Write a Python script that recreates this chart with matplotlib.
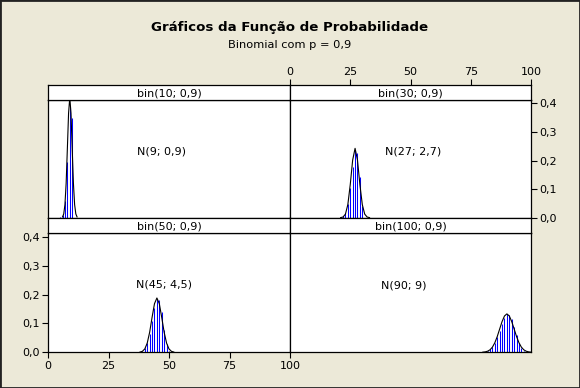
import matplotlib.pyplot as plt
from matplotlib.patches import Rectangle

plt.rcParams['font.family'] = 'DejaVu Sans'

W, H = 580, 388
BG = '#ECE9D8'

# binomial probabilities, p = 0.9
panel_titles = ['bin(10; 0,9)', 'bin(30; 0,9)', 'bin(50; 0,9)', 'bin(100; 0,9)']
normal_labels = ['N(9; 0,9)', 'N(27; 2,7)', 'N(45; 4,5)', 'N(90; 9)']
label_pos = [(47, 0.23), (51, 0.23), (48, 0.235), (47, 0.23)]

k10 = [5, 6, 7, 8, 9, 10]
p10 = [0.0015, 0.0112, 0.0574, 0.1937, 0.3874, 0.3487]
k30 = [20, 21, 22, 23, 24, 25, 26, 27, 28, 29, 30]
p30 = [0.0004, 0.0016, 0.0058, 0.0180, 0.0474, 0.1023, 0.1771, 0.2361, 0.2277, 0.1413, 0.0424]
k50 = [36, 37, 38, 39, 40, 41, 42, 43, 44, 45, 46, 47, 48, 49, 50]
p50 = [0.0002, 0.0007, 0.0022, 0.0061, 0.0152, 0.0333, 0.0643, 0.1076, 0.1541,
       0.1849, 0.1809, 0.1386, 0.0779, 0.0286, 0.0052]
k100 = [80, 81, 82, 83, 84, 85, 86, 87, 88, 89, 90, 91, 92, 93, 94, 95, 96, 97, 98, 99, 100]
p100 = [0.0012, 0.0026, 0.0054, 0.0106, 0.0193, 0.0327, 0.0513, 0.0743, 0.0988, 0.1199, 0.1319,
        0.1304, 0.1148, 0.0889, 0.0596, 0.0339, 0.0159, 0.0059, 0.0016, 0.0003, 0.00003]

# normal approximation curves
x10 = [6, 6.5, 7, 7.5, 8, 8.5, 9, 9.5, 10, 10.5, 11, 11.5, 12]
y10 = [0.0028, 0.0131, 0.0456, 0.1205, 0.2413, 0.3660, 0.4205, 0.3660, 0.2413, 0.1205, 0.0456, 0.0131, 0.0028]
x30 = [21, 22, 23, 24, 25, 26, 27, 28, 29, 30, 31, 32, 33]
y30 = [0.0003, 0.0024, 0.0125, 0.0459, 0.1158, 0.2018, 0.2428, 0.2018, 0.1158, 0.0459, 0.0125, 0.0024, 0.0003]
x50 = [38, 39, 40, 41, 42, 43, 44, 45, 46, 47, 48, 49, 50, 51, 52]
y50 = [0.0008, 0.0034, 0.0117, 0.0318, 0.0692, 0.1206, 0.1683, 0.1881,
       0.1683, 0.1206, 0.0692, 0.0318, 0.0117, 0.0034, 0.0008]
x100 = [80, 81, 82, 83, 84, 85, 86, 87, 88, 89, 90, 91, 92, 93, 94, 95, 96, 97, 98, 99, 100]
y100 = [0.0005, 0.0015, 0.0038, 0.0087, 0.0180, 0.0332, 0.0547, 0.0807, 0.1065, 0.1258, 0.1330,
        0.1258, 0.1065, 0.0807, 0.0547, 0.0332, 0.0180, 0.0087, 0.0038, 0.0015, 0.0005]

bars = [(k10, p10), (k30, p30), (k50, p50), (k100, p100)]
curves = [(x10, y10), (x30, y30), (x50, y50), (x100, y100)]

xticks = [0, 25, 50, 75, 100]
yticks = [0.0, 0.1, 0.2, 0.3, 0.4]
ytick_labels = ['0,0', '0,1', '0,2', '0,3', '0,4']


def box(x0, y0, x1, y1):
    return [x0 / W, 1 - y1 / H, (x1 - x0) / W, (y1 - y0) / H]


fig = plt.figure(figsize=(W / 100, H / 100), dpi=100, facecolor=BG)
fig.patches.append(Rectangle((0, 0), 1, 1, transform=fig.transFigure, fill=False,
                             edgecolor='#222222', lw=2))

fig.text(0.5, 1 - 27 / H, 'Gráficos da Função de Probabilidade', ha='center', va='center',
         fontsize=9.6, fontweight='bold')
fig.text(0.5, 1 - 45 / H, 'Binomial com p = 0,9', ha='center', va='center', fontsize=8.2)

cols = [(48, 290), (290, 531)]
rows = [((85, 100), (100, 217.7)), ((217.7, 233.3), (233.3, 352.3))]

for i in range(4):
    r, c = divmod(i, 2)
    x0, x1 = cols[c]
    (s0, s1), (p0, p1) = rows[r]

    ax = fig.add_axes(box(x0, p0, x1, p1))
    ax.set_facecolor('white')
    ax.set_xlim(0, 100)
    ax.set_ylim(0, 0.412)
    k, p = bars[i]
    ax.vlines(k, 0, p, color='blue', lw=0.75)
    xc, yc = curves[i]
    ax.plot(xc, yc, color='black', lw=0.8, clip_on=False)
    tx, ty = label_pos[i]
    ax.text(tx, ty, normal_labels[i], ha='center', va='center', fontsize=8)
    for s in ax.spines.values():
        s.set_linewidth(0.9)

    ax.set_xticks(xticks)
    ax.set_yticks(yticks)
    ax.set_yticklabels(ytick_labels)
    ax.tick_params(labelsize=8, length=4, width=0.8, pad=2)
    if i == 2:
        ax.set_xticklabels([str(t) for t in xticks])
    else:
        ax.tick_params(axis='x', bottom=False, labelbottom=False)
    if i == 1:
        ax.yaxis.tick_right()
    elif i != 2:
        ax.tick_params(axis='y', left=False, labelleft=False)

    st = fig.add_axes(box(x0, s0, x1, s1))
    st.set_facecolor('white')
    st.set_xlim(0, 100)
    st.set_yticks([])
    for s in st.spines.values():
        s.set_linewidth(0.9)
    st.text(0.5, 0.45, panel_titles[i], transform=st.transAxes, ha='center', va='center',
            fontsize=8)
    if i == 1:
        st.set_xticks(xticks)
        st.xaxis.tick_top()
        st.tick_params(labelsize=8, length=4, width=0.8, pad=2)
    else:
        st.set_xticks([])

fig.savefig('out.png', dpi=100, facecolor=BG)
